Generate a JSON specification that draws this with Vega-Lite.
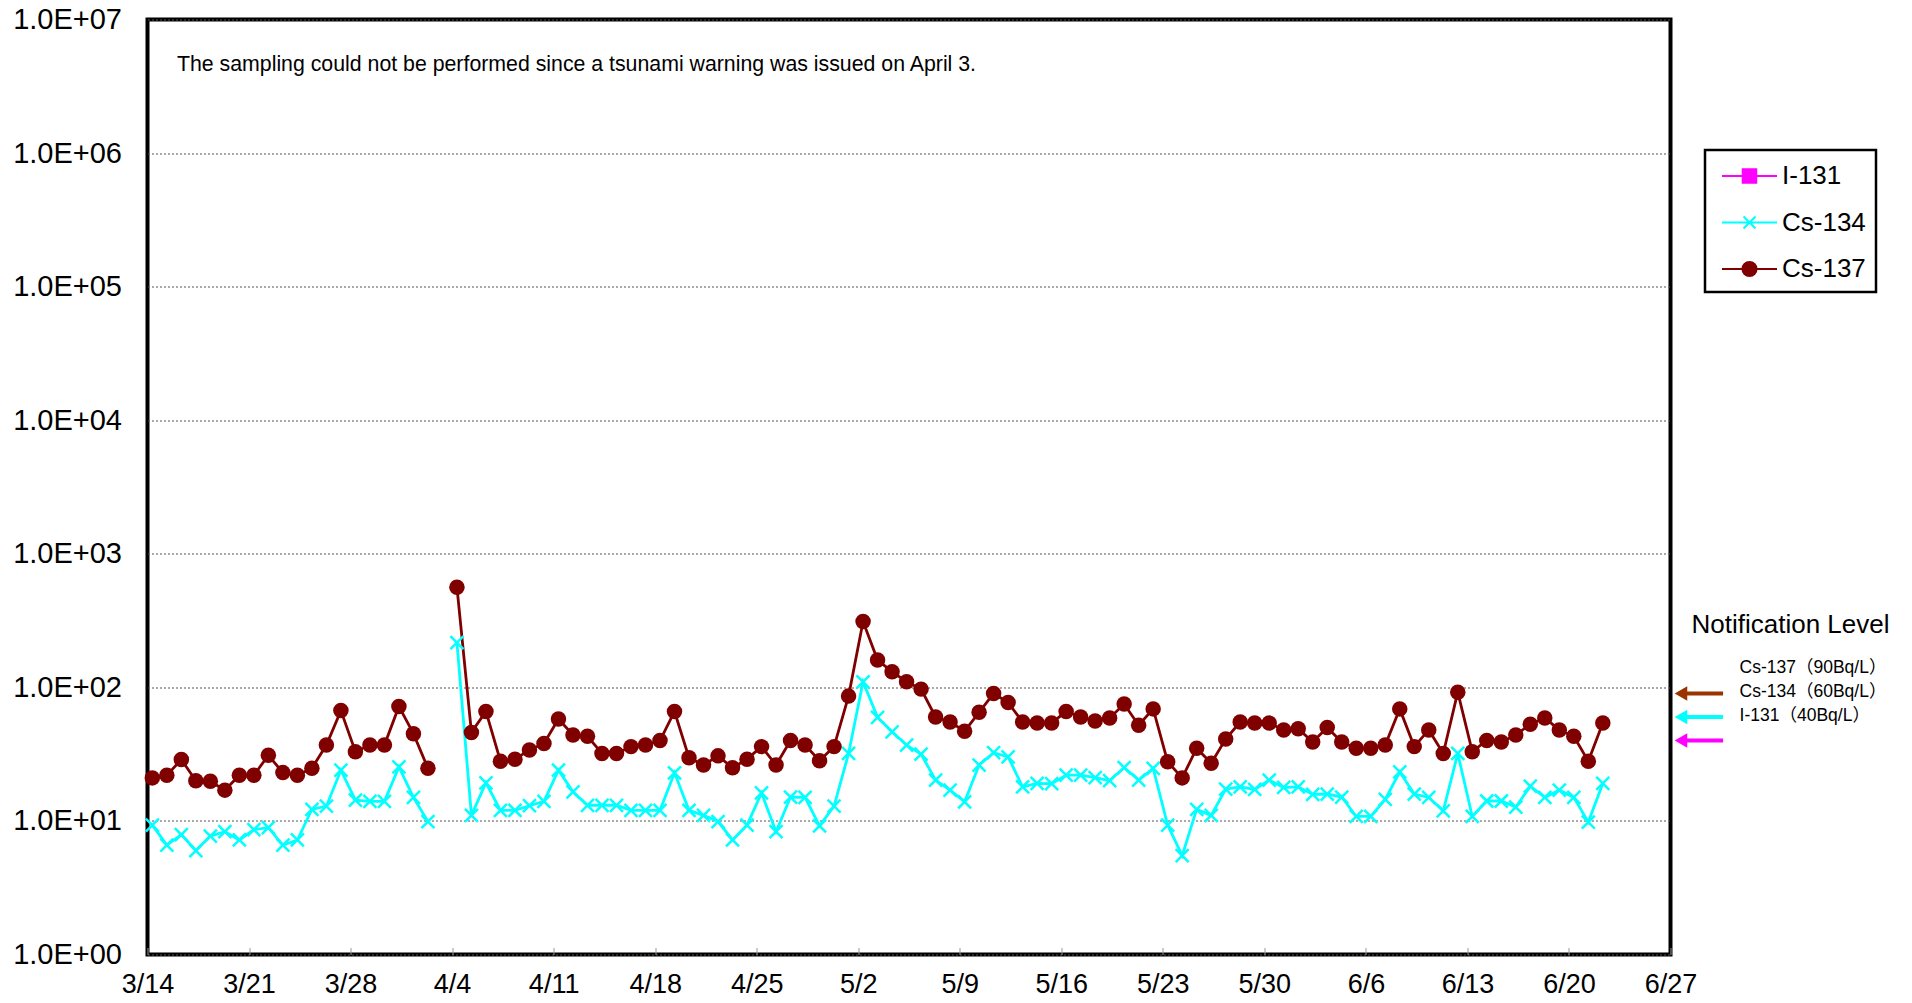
{
  "$schema": "https://vega.github.io/schema/vega-lite/v6.json",
  "width": 1523,
  "height": 935,
  "autosize": {"type": "none"},
  "padding": {"left": 147.5, "top": 19.5, "right": 241.5, "bottom": 48.5},
  "background": "white",
  "config": {
    "view": {"stroke": "black", "strokeWidth": 4},
    "font": "Liberation Sans, Noto Sans CJK JP, sans-serif"
  },
  "datasets": {
    "obs": [
      {"t": "2011-03-14T08:00:00", "seg": 1, "Cs-134": 9.3, "Cs-137": 21},
      {"t": "2011-03-15T08:00:00", "seg": 1, "Cs-134": 6.6, "Cs-137": 22},
      {"t": "2011-03-16T08:00:00", "seg": 1, "Cs-134": 7.9, "Cs-137": 28.8},
      {"t": "2011-03-17T08:00:00", "seg": 1, "Cs-134": 6.0, "Cs-137": 20},
      {"t": "2011-03-18T08:00:00", "seg": 1, "Cs-134": 7.7, "Cs-137": 19.8},
      {"t": "2011-03-19T08:00:00", "seg": 1, "Cs-134": 8.3, "Cs-137": 17},
      {"t": "2011-03-20T08:00:00", "seg": 1, "Cs-134": 7.2, "Cs-137": 22},
      {"t": "2011-03-21T08:00:00", "seg": 1, "Cs-134": 8.6, "Cs-137": 22},
      {"t": "2011-03-22T08:00:00", "seg": 1, "Cs-134": 8.9, "Cs-137": 31},
      {"t": "2011-03-23T08:00:00", "seg": 1, "Cs-134": 6.6, "Cs-137": 23},
      {"t": "2011-03-24T08:00:00", "seg": 1, "Cs-134": 7.2, "Cs-137": 22},
      {"t": "2011-03-25T08:00:00", "seg": 1, "Cs-134": 12.2, "Cs-137": 24.8},
      {"t": "2011-03-26T08:00:00", "seg": 1, "Cs-134": 12.9, "Cs-137": 37},
      {"t": "2011-03-27T08:00:00", "seg": 1, "Cs-134": 24, "Cs-137": 67},
      {"t": "2011-03-28T08:00:00", "seg": 1, "Cs-134": 14.3, "Cs-137": 33},
      {"t": "2011-03-29T08:00:00", "seg": 1, "Cs-134": 14, "Cs-137": 37},
      {"t": "2011-03-30T08:00:00", "seg": 1, "Cs-134": 14, "Cs-137": 37},
      {"t": "2011-03-31T08:00:00", "seg": 1, "Cs-134": 25.4, "Cs-137": 72},
      {"t": "2011-04-01T08:00:00", "seg": 1, "Cs-134": 15, "Cs-137": 45},
      {"t": "2011-04-02T08:00:00", "seg": 1, "Cs-134": 9.9, "Cs-137": 24.8},
      {"t": "2011-04-04T08:00:00", "seg": 2, "Cs-134": 216, "Cs-137": 562},
      {"t": "2011-04-05T08:00:00", "seg": 2, "Cs-134": 11, "Cs-137": 46},
      {"t": "2011-04-06T08:00:00", "seg": 2, "Cs-134": 19.3, "Cs-137": 66},
      {"t": "2011-04-07T08:00:00", "seg": 2, "Cs-134": 12, "Cs-137": 28},
      {"t": "2011-04-08T08:00:00", "seg": 2, "Cs-134": 12, "Cs-137": 29},
      {"t": "2011-04-09T08:00:00", "seg": 2, "Cs-134": 13, "Cs-137": 34},
      {"t": "2011-04-10T08:00:00", "seg": 2, "Cs-134": 14, "Cs-137": 38},
      {"t": "2011-04-11T08:00:00", "seg": 2, "Cs-134": 24, "Cs-137": 58},
      {"t": "2011-04-12T08:00:00", "seg": 2, "Cs-134": 16.5, "Cs-137": 44},
      {"t": "2011-04-13T08:00:00", "seg": 2, "Cs-134": 13.1, "Cs-137": 43},
      {"t": "2011-04-14T08:00:00", "seg": 2, "Cs-134": 13.1, "Cs-137": 32},
      {"t": "2011-04-15T08:00:00", "seg": 2, "Cs-134": 13.1, "Cs-137": 32},
      {"t": "2011-04-16T08:00:00", "seg": 2, "Cs-134": 12, "Cs-137": 36},
      {"t": "2011-04-17T08:00:00", "seg": 2, "Cs-134": 12, "Cs-137": 37},
      {"t": "2011-04-18T08:00:00", "seg": 2, "Cs-134": 12, "Cs-137": 40},
      {"t": "2011-04-19T08:00:00", "seg": 2, "Cs-134": 22.9, "Cs-137": 66},
      {"t": "2011-04-20T08:00:00", "seg": 2, "Cs-134": 12, "Cs-137": 29.7},
      {"t": "2011-04-21T08:00:00", "seg": 2, "Cs-134": 11, "Cs-137": 26.2},
      {"t": "2011-04-22T08:00:00", "seg": 2, "Cs-134": 9.9, "Cs-137": 30.7},
      {"t": "2011-04-23T08:00:00", "seg": 2, "Cs-134": 7.2, "Cs-137": 25},
      {"t": "2011-04-24T08:00:00", "seg": 2, "Cs-134": 9.3, "Cs-137": 29},
      {"t": "2011-04-25T08:00:00", "seg": 2, "Cs-134": 16.2, "Cs-137": 36},
      {"t": "2011-04-26T08:00:00", "seg": 2, "Cs-134": 8.3, "Cs-137": 26.2},
      {"t": "2011-04-27T08:00:00", "seg": 2, "Cs-134": 15.1, "Cs-137": 40},
      {"t": "2011-04-28T08:00:00", "seg": 2, "Cs-134": 15, "Cs-137": 37},
      {"t": "2011-04-29T08:00:00", "seg": 2, "Cs-134": 9.2, "Cs-137": 28.2},
      {"t": "2011-04-30T08:00:00", "seg": 2, "Cs-134": 12.9, "Cs-137": 36},
      {"t": "2011-05-01T08:00:00", "seg": 2, "Cs-134": 32, "Cs-137": 86},
      {"t": "2011-05-02T08:00:00", "seg": 2, "Cs-134": 110, "Cs-137": 311},
      {"t": "2011-05-03T08:00:00", "seg": 2, "Cs-134": 59.6, "Cs-137": 160},
      {"t": "2011-05-04T08:00:00", "seg": 2, "Cs-134": 46.5, "Cs-137": 131},
      {"t": "2011-05-05T08:00:00", "seg": 2, "Cs-134": 36.9, "Cs-137": 110},
      {"t": "2011-05-06T08:00:00", "seg": 2, "Cs-134": 31.6, "Cs-137": 97},
      {"t": "2011-05-07T08:00:00", "seg": 2, "Cs-134": 20.2, "Cs-137": 60},
      {"t": "2011-05-08T08:00:00", "seg": 2, "Cs-134": 17, "Cs-137": 55},
      {"t": "2011-05-09T08:00:00", "seg": 2, "Cs-134": 13.9, "Cs-137": 47},
      {"t": "2011-05-10T08:00:00", "seg": 2, "Cs-134": 26.2, "Cs-137": 65},
      {"t": "2011-05-11T08:00:00", "seg": 2, "Cs-134": 32.4, "Cs-137": 90},
      {"t": "2011-05-12T08:00:00", "seg": 2, "Cs-134": 30.2, "Cs-137": 77},
      {"t": "2011-05-13T08:00:00", "seg": 2, "Cs-134": 18, "Cs-137": 55},
      {"t": "2011-05-14T08:00:00", "seg": 2, "Cs-134": 19.1, "Cs-137": 54},
      {"t": "2011-05-15T08:00:00", "seg": 2, "Cs-134": 19, "Cs-137": 54},
      {"t": "2011-05-16T08:00:00", "seg": 2, "Cs-134": 22, "Cs-137": 66},
      {"t": "2011-05-17T08:00:00", "seg": 2, "Cs-134": 22, "Cs-137": 60},
      {"t": "2011-05-18T08:00:00", "seg": 2, "Cs-134": 21.1, "Cs-137": 56},
      {"t": "2011-05-19T08:00:00", "seg": 2, "Cs-134": 20, "Cs-137": 59},
      {"t": "2011-05-20T08:00:00", "seg": 2, "Cs-134": 25.1, "Cs-137": 75},
      {"t": "2011-05-21T08:00:00", "seg": 2, "Cs-134": 20.2, "Cs-137": 52},
      {"t": "2011-05-22T08:00:00", "seg": 2, "Cs-134": 24.7, "Cs-137": 69},
      {"t": "2011-05-23T08:00:00", "seg": 2, "Cs-134": 9.3, "Cs-137": 27.7},
      {"t": "2011-05-24T08:00:00", "seg": 2, "Cs-134": 5.5, "Cs-137": 21},
      {"t": "2011-05-25T08:00:00", "seg": 2, "Cs-134": 12.2, "Cs-137": 35},
      {"t": "2011-05-26T08:00:00", "seg": 2, "Cs-134": 11, "Cs-137": 27},
      {"t": "2011-05-27T08:00:00", "seg": 2, "Cs-134": 17.3, "Cs-137": 41},
      {"t": "2011-05-28T08:00:00", "seg": 2, "Cs-134": 18, "Cs-137": 55},
      {"t": "2011-05-29T08:00:00", "seg": 2, "Cs-134": 17.2, "Cs-137": 54},
      {"t": "2011-05-30T08:00:00", "seg": 2, "Cs-134": 20.2, "Cs-137": 54},
      {"t": "2011-05-31T08:00:00", "seg": 2, "Cs-134": 17.8, "Cs-137": 48},
      {"t": "2011-06-01T08:00:00", "seg": 2, "Cs-134": 18, "Cs-137": 49},
      {"t": "2011-06-02T08:00:00", "seg": 2, "Cs-134": 15.8, "Cs-137": 39},
      {"t": "2011-06-03T08:00:00", "seg": 2, "Cs-134": 15.9, "Cs-137": 50},
      {"t": "2011-06-04T08:00:00", "seg": 2, "Cs-134": 15.1, "Cs-137": 39},
      {"t": "2011-06-05T08:00:00", "seg": 2, "Cs-134": 10.8, "Cs-137": 35},
      {"t": "2011-06-06T08:00:00", "seg": 2, "Cs-134": 10.8, "Cs-137": 35},
      {"t": "2011-06-07T08:00:00", "seg": 2, "Cs-134": 14.5, "Cs-137": 37},
      {"t": "2011-06-08T08:00:00", "seg": 2, "Cs-134": 23.3, "Cs-137": 69},
      {"t": "2011-06-09T08:00:00", "seg": 2, "Cs-134": 15.9, "Cs-137": 36},
      {"t": "2011-06-10T08:00:00", "seg": 2, "Cs-134": 15, "Cs-137": 48},
      {"t": "2011-06-11T08:00:00", "seg": 2, "Cs-134": 11.9, "Cs-137": 32},
      {"t": "2011-06-12T08:00:00", "seg": 2, "Cs-134": 32, "Cs-137": 92},
      {"t": "2011-06-13T08:00:00", "seg": 2, "Cs-134": 10.8, "Cs-137": 33},
      {"t": "2011-06-14T08:00:00", "seg": 2, "Cs-134": 14.1, "Cs-137": 40},
      {"t": "2011-06-15T08:00:00", "seg": 2, "Cs-134": 14.1, "Cs-137": 39},
      {"t": "2011-06-16T08:00:00", "seg": 2, "Cs-134": 12.7, "Cs-137": 44},
      {"t": "2011-06-17T08:00:00", "seg": 2, "Cs-134": 18.2, "Cs-137": 53},
      {"t": "2011-06-18T08:00:00", "seg": 2, "Cs-134": 15, "Cs-137": 59},
      {"t": "2011-06-19T08:00:00", "seg": 2, "Cs-134": 17, "Cs-137": 48},
      {"t": "2011-06-20T08:00:00", "seg": 2, "Cs-134": 15, "Cs-137": 43},
      {"t": "2011-06-21T08:00:00", "seg": 2, "Cs-134": 9.8, "Cs-137": 28},
      {"t": "2011-06-22T08:00:00", "seg": 2, "Cs-134": 19.1, "Cs-137": 54}
    ],
    "levels": [
      {"nuclide": "Cs-137", "level": 90, "label": "Cs-137（90Bq/L）"},
      {"nuclide": "Cs-134", "level": 60, "label": "Cs-134（60Bq/L）"},
      {"nuclide": "I-131", "level": 40, "label": "I-131（40Bq/L）"}
    ]
  },
  "layer": [
    {
      "data": {"name": "obs"},
      "transform": [{"fold": ["Cs-134", "Cs-137"], "as": ["nuclide", "value"]}],
      "mark": {"type": "line", "strokeWidth": 2.8},
      "encoding": {
        "x": {
          "field": "t", "type": "temporal",
          "scale": {"domain": [{"year": 2011, "month": 3, "date": 14}, {"year": 2011, "month": 6, "date": 27}], "nice": false},
          "axis": {
            "title": null, "domain": false, "grid": false,
            "values": [
              {"year": 2011, "month": 3, "date": 14}, {"year": 2011, "month": 3, "date": 21}, {"year": 2011, "month": 3, "date": 28},
              {"year": 2011, "month": 4, "date": 4}, {"year": 2011, "month": 4, "date": 11}, {"year": 2011, "month": 4, "date": 18},
              {"year": 2011, "month": 4, "date": 25}, {"year": 2011, "month": 5, "date": 2}, {"year": 2011, "month": 5, "date": 9},
              {"year": 2011, "month": 5, "date": 16}, {"year": 2011, "month": 5, "date": 23}, {"year": 2011, "month": 5, "date": 30},
              {"year": 2011, "month": 6, "date": 6}, {"year": 2011, "month": 6, "date": 13}, {"year": 2011, "month": 6, "date": 20},
              {"year": 2011, "month": 6, "date": 27}
            ],
            "format": "%-m/%-d", "labelFontSize": 27, "labelColor": "black",
            "labelFont": "Liberation Sans",
            "labelFlush": false, "labelOverlap": false,
            "tickSize": -7, "tickColor": "#999999", "tickWidth": 1, "labelPadding": 24
          }
        },
        "y": {
          "field": "value", "type": "quantitative",
          "scale": {"type": "log", "domain": [1, 10000000], "nice": false},
          "axis": {
            "title": null, "domain": false, "ticks": false,
            "values": [1, 10, 100, 1000, 10000, 100000, 1000000, 10000000],
            "labelExpr": "'1.0E+0' + round(log(datum.value) / LN10)",
            "labelFontSize": 29, "labelColor": "black", "labelFont": "Liberation Sans", "labelPadding": 26,
            "grid": true, "gridColor": "#555555", "gridDash": [2, 2], "gridWidth": 1
          }
        },
        "color": {
          "field": "nuclide", "type": "nominal",
          "scale": {"domain": ["I-131", "Cs-134", "Cs-137"], "range": ["#FF00FF", "#00FFFF", "#800000"]},
          "legend": {
            "title": null, "orient": "none", "legendX": 1557.5, "legendY": 130.5,
            "direction": "vertical", "padding": 10,
            "strokeColor": "black", "fillColor": "white",
            "labelFontSize": 26, "labelColor": "black", "labelFont": "Liberation Sans", "labelOffset": 35,
            "symbolSize": 900, "symbolStrokeWidth": 2, "rowPadding": 17.5,
            "encode": {
              "legend": {"update": {"stroke": {"value": "black"}, "strokeWidth": {"value": 2.5}}},
              "symbols": {"update": {
                "shape": {"signal": "datum.value === 'I-131' ? 'M-0.6,0H3.067M0.783,-0.45H1.683V0.45H0.783Z' : datum.value === 'Cs-134' ? 'M-0.6,0H3.067M0.833,-0.4L1.633,0.4M0.833,0.4L1.633,-0.4' : 'M-0.6,0H3.067M0.763,0A0.47,0.47,0,1,1,1.703,0A0.47,0.47,0,1,1,0.763,0Z'"},
                "fill": {"signal": "scale('color', datum.value)"},
                "stroke": {"signal": "scale('color', datum.value)"},
                "strokeWidth": {"value": 2},
                "opacity": {"value": 1}
              }}
            }
          }
        },
        "detail": {"field": "seg", "type": "nominal"}
      }
    },
    {
      "data": {"name": "obs"},
      "mark": {"type": "point", "shape": "M-1,-1L1,1M-1,1L1,-1", "filled": false, "stroke": "#00FFFF", "strokeWidth": 2.5, "size": 169, "opacity": 1},
      "encoding": {
        "x": {"field": "t", "type": "temporal"},
        "y": {"field": "Cs-134", "type": "quantitative"}
      }
    },
    {
      "data": {"name": "obs"},
      "mark": {"type": "circle", "color": "#800000", "size": 240, "opacity": 1},
      "encoding": {
        "x": {"field": "t", "type": "temporal"},
        "y": {"field": "Cs-137", "type": "quantitative"}
      }
    },
    {
      "data": {"name": "levels"},
      "mark": {"type": "rule", "strokeWidth": 4},
      "encoding": {
        "x": {"datum": {"year": 2011, "month": 6, "date": 27, "hours": 17}, "type": "temporal"},
        "x2": {"datum": {"year": 2011, "month": 6, "date": 30, "hours": 15}},
        "y": {"field": "level", "type": "quantitative"},
        "stroke": {"field": "nuclide", "type": "nominal", "scale": {"domain": ["Cs-137", "Cs-134", "I-131"], "range": ["#993300", "#00FFFF", "#FF00FF"]}, "legend": null}
      }
    },
    {
      "data": {"name": "levels"},
      "mark": {"type": "point", "shape": "triangle-left", "filled": true, "size": 210, "opacity": 1},
      "encoding": {
        "x": {"datum": {"year": 2011, "month": 6, "date": 27, "hours": 17, "minutes": 20}, "type": "temporal"},
        "y": {"field": "level", "type": "quantitative"},
        "fill": {"field": "nuclide", "type": "nominal", "scale": {"domain": ["Cs-137", "Cs-134", "I-131"], "range": ["#993300", "#00FFFF", "#FF00FF"]}, "legend": null}
      }
    },
    {
      "data": {"name": "levels"},
      "mark": {"type": "text", "align": "left", "baseline": "middle", "dy": -25, "fontSize": 17.5, "color": "black", "font": "Liberation Sans, Noto Sans CJK JP, sans-serif"},
      "encoding": {
        "x": {"datum": {"year": 2011, "month": 7, "date": 1, "hours": 18, "minutes": 15}, "type": "temporal"},
        "y": {"field": "level", "type": "quantitative"},
        "text": {"field": "label"}
      }
    },
    {
      "data": {"values": [{"note": "Notification Level"}]},
      "mark": {"type": "text", "align": "left", "baseline": "middle", "fontSize": 26, "color": "black", "font": "Liberation Sans"},
      "encoding": {
        "x": {"datum": {"year": 2011, "month": 6, "date": 28, "hours": 10, "minutes": 45}, "type": "temporal"},
        "y": {"datum": 295, "type": "quantitative"},
        "text": {"field": "note"}
      }
    },
    {
      "data": {"values": [{"note": "The sampling could not be performed since a tsunami warning was issued on April 3."}]},
      "mark": {"type": "text", "align": "left", "baseline": "middle", "fontSize": 21.3, "color": "black", "font": "Liberation Sans"},
      "encoding": {
        "x": {"datum": {"year": 2011, "month": 3, "date": 16, "hours": 0, "minutes": 45}, "type": "temporal"},
        "y": {"datum": 4600000, "type": "quantitative"},
        "text": {"field": "note"}
      }
    }
  ]
}
